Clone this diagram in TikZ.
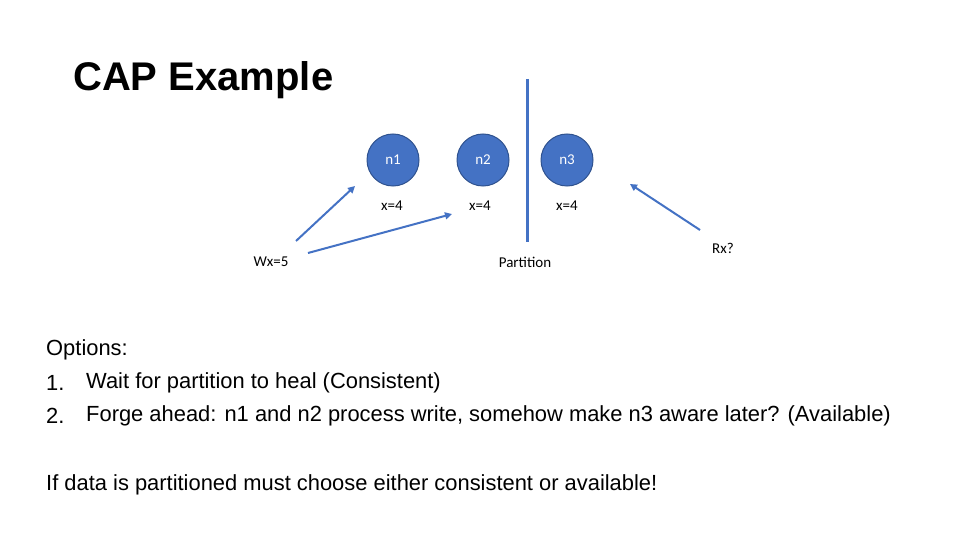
\documentclass[tikz,border=0pt]{standalone}
\usepackage{fontspec}
\setmainfont{Liberation Sans}
\newfontfamily\calfont{Carlito}
\usetikzlibrary{arrows.meta}
\definecolor{nodeblue}{HTML}{4472C4}
\definecolor{edgeblue}{HTML}{2F528F}
\begin{document}
\begin{tikzpicture}[x=1pt,y=-1pt,
  nd/.style={circle,fill=nodeblue,draw=edgeblue,line width=1pt,minimum size=52pt,inner sep=0pt,text=white,font=\calfont\fontsize{15}{17}\selectfont},
  lbl/.style={font=\calfont\fontsize{15}{17}\selectfont,inner sep=0pt},
  body/.style={font=\fontsize{21.9}{26}\selectfont,anchor=west,inner sep=0pt},
  arr/.style={draw=nodeblue,line width=2pt,-{Triangle[length=7pt,width=7pt]}}]
\useasboundingbox (0,0) rectangle (960,540);
\node[font=\bfseries\fontsize{40}{44}\selectfont,anchor=west,inner sep=0pt] (title) at (73,80) {CAP Example};
\node[nd] (n1) at (393,160) {n1};
\node[nd] (n2) at (483,160) {n2};
\node[nd] (n3) at (567,160) {n3};
\node[lbl] (x1) at (392,206) {x=4};
\node[lbl] (x2) at (480,206) {x=4};
\node[lbl] (x3) at (567,206) {x=4};
\coordinate (pt) at (527,79);
\coordinate (pb) at (527,242);
\draw[nodeblue,line width=3pt] (pt) -- (pb);
\node[lbl] (part) at (525,262) {Partition};
\node[lbl] (w) at (271,262) {Wx=5};
\node[lbl] (r) at (723,248) {Rx?};
\coordinate (w1s) at (296,241); \coordinate (w1e) at (355,186);
\coordinate (w2s) at (308,253); \coordinate (w2e) at (452,214);
\coordinate (rs) at (700,230); \coordinate (re) at (630,184);
\draw[arr] (w1s) -- (w1e);
\draw[arr] (w2s) -- (w2e);
\draw[arr] (rs) -- (re);
\node[body] (o) at (46,350) {Options:};
\node[body] (o1) at (46,383) {1.};
\node[body] (o1t) at (86,383) {Wait for partition to heal (Consistent)};
\node[body] (o2) at (46,416) {2.};
\node[body] (o2t) at (86,416) {Forge ahead: n1 and n2 process write, somehow make n3 aware later? (Available)};
\node[body] (c) at (46,485) {If data is partitioned must choose either consistent or available!};
\end{tikzpicture}
\end{document}
